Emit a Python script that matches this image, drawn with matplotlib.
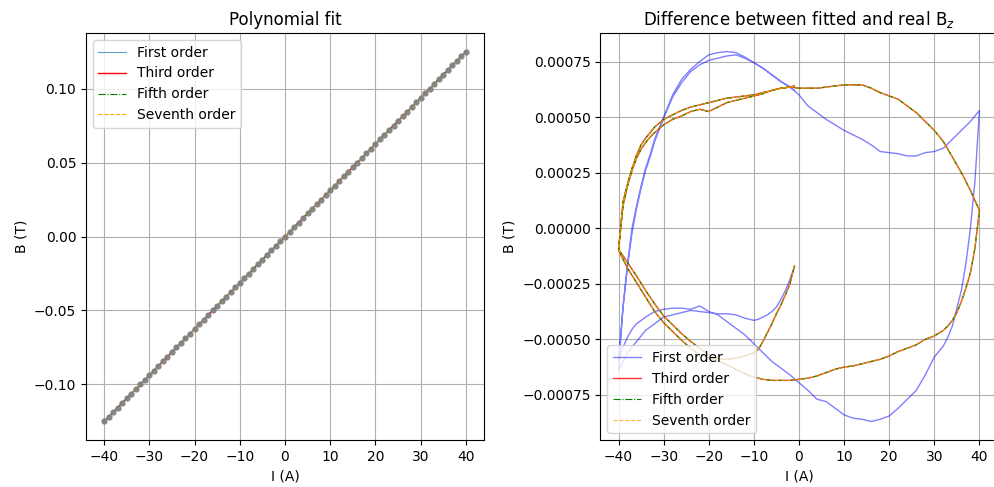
import matplotlib
matplotlib.use("Agg")
import matplotlib.pyplot as plt
import numpy as np

# Measured field along the current setpoints (left panel)
current_grid = list(range(-40, 41))
field_pos = [0.0, 0.0031, 0.0063, 0.0094, 0.0125, 0.0156, 0.0188, 0.0219, 0.0250, 0.0281,
             0.0313, 0.0344, 0.0375, 0.0406, 0.0438, 0.0469, 0.0500, 0.0531, 0.0563, 0.0594,
             0.0625, 0.0656, 0.0688, 0.0719, 0.0750, 0.0781, 0.0813, 0.0844, 0.0875, 0.0906,
             0.0938, 0.0969, 0.1000, 0.1031, 0.1063, 0.1094, 0.1125, 0.1156, 0.1188, 0.1219,
             0.1250]
field_grid = [-b for b in field_pos[:0:-1]] + field_pos

# Hysteresis sweep: -1 -> -40 -> 40 -> -40 -> -1 A
# residuals in units of 1e-4 T
sweep1_I = [-1, -2, -3, -4, -5, -6, -7, -8, -9, -10, -12, -14, -16, -18, -20,
            -22, -24, -26, -28, -30, -32, -34, -36, -38, -39, -40]
sweep1_first = [-1.75, -2.3, -2.8, -3.2, -3.55, -3.75, -3.9, -4.0, -4.1, -4.15, -4.05,
                -3.9, -3.85, -3.85, -3.8, -3.75, -3.7, -3.8, -3.9, -4.0, -4.3, -4.6,
                -5.1, -5.6, -6.0, -6.4]
sweep1_high = [-1.7, -2.5, -3.0, -3.45, -3.85, -4.3, -4.7, -5.1, -5.45, -5.6, -5.75,
               -5.85, -5.9, -5.9, -5.85, -5.7, -5.4, -5.05, -4.65, -4.25, -3.75, -3.1,
               -2.45, -1.8, -1.4, -1.0]

sweep2_I = [-39, -38, -37, -36, -35, -34, -33, -32, -30, -28, -26, -24, -22, -20, -18,
            -16, -14, -12, -10, -8, -6, -4, -2, 0, 2, 4, 6, 8, 10, 12, 14, 16, 18, 20,
            22, 24, 26, 28, 30, 32, 34, 36, 37, 38, 39, 40]
sweep2_first = [-3.5, -1.6, 0.0, 1.0, 1.9, 2.7, 3.3, 4.0, 5.0, 6.0, 6.7, 7.15, 7.5, 7.8,
                7.9, 7.95, 7.9, 7.7, 7.45, 7.2, 6.9, 6.6, 6.35, 6.0, 5.5, 5.2, 4.9, 4.65,
                4.4, 4.2, 4.0, 3.75, 3.45, 3.4, 3.35, 3.25, 3.25, 3.4, 3.45, 3.6, 4.0,
                4.4, 4.6, 4.8, 5.05, 5.3]
sweep2_high = [1.2, 2.0, 2.7, 3.3, 3.75, 4.05, 4.3, 4.55, 4.9, 5.1, 5.3, 5.45, 5.55,
               5.65, 5.75, 5.85, 5.9, 5.95, 6.0, 6.1, 6.2, 6.3, 6.35, 6.3, 6.3, 6.3,
               6.35, 6.4, 6.45, 6.45, 6.45, 6.3, 6.1, 5.95, 5.8, 5.5, 5.2, 4.8, 4.4,
               3.9, 3.2, 2.5, 2.1, 1.7, 1.25, 0.8]

sweep3_I = [39, 38, 37, 36, 35, 34, 33, 32, 30, 28, 26, 24, 22, 20, 18, 16, 14, 12, 10,
            8, 6, 4, 2, 0, -2, -4, -6, -8, -10, -12, -14, -16, -18, -20, -22, -24, -26,
            -28, -30, -32, -34, -36, -37, -38, -39, -40]
sweep3_first = [2.1, 0.0, -1.6, -2.8, -3.6, -4.4, -4.9, -5.3, -5.8, -6.6, -7.3, -7.7,
                -8.1, -8.45, -8.6, -8.7, -8.6, -8.55, -8.4, -8.1, -7.8, -7.7, -7.3, -6.95,
                -6.6, -6.3, -6.0, -5.6, -5.2, -4.8, -4.5, -4.2, -3.9, -3.75, -3.5, -3.65,
                -3.6, -3.6, -3.65, -3.75, -4.0, -4.3, -4.55, -4.9, -5.35, -5.9]
sweep3_high = [-0.9, -2.0, -2.7, -3.3, -3.8, -4.15, -4.4, -4.6, -4.85, -5.0, -5.25, -5.4,
               -5.55, -5.75, -5.9, -6.0, -6.1, -6.2, -6.25, -6.35, -6.5, -6.65, -6.75,
               -6.8, -6.85, -6.85, -6.85, -6.8, -6.7, -6.55, -6.35, -6.15, -5.95, -5.7,
               -5.4, -5.1, -4.75, -4.35, -3.95, -3.4, -2.8, -2.15, -1.85, -1.55, -1.25,
               -0.95]

sweep4_I = [-39, -38, -37, -36, -35, -34, -33, -32, -30, -28, -26, -24, -22, -20, -18,
            -16, -14, -12, -10, -8, -6, -4, -2, -1]
sweep4_first = [-3.6, -1.7, -0.2, 0.9, 1.8, 2.6, 3.2, 3.9, 4.95, 5.9, 6.55, 7.05, 7.35,
                7.55, 7.65, 7.75, 7.8, 7.65, 7.45, 7.2, 6.9, 6.6, 6.35, 6.2]
sweep4_high = [1.0, 1.9, 2.6, 3.15, 3.55, 3.85, 4.1, 4.3, 4.65, 4.9, 5.05, 5.25, 5.35,
               5.25, 5.45, 5.65, 5.75, 5.85, 5.95, 6.05, 6.2, 6.3, 6.35, 6.4]

current_path = np.array(sweep1_I + sweep2_I + sweep3_I + sweep4_I)
diff_first = np.array(sweep1_first + sweep2_first + sweep3_first + sweep4_first) * 1e-4
diff_high = np.array(sweep1_high + sweep2_high + sweep3_high + sweep4_high) * 1e-4

fig = plt.figure(figsize=(9.94, 4.87), dpi=100)
ax1 = fig.add_axes([0.0865, 0.0965, 0.4004, 0.8357])
ax2 = fig.add_axes([0.6041, 0.0965, 0.3994, 0.8357])

# Left: polynomial fits of B(I)
x = np.array(current_grid)
y = np.array(field_grid)
fit1 = np.polyval(np.polyfit(x, y, 1), x)
fit3 = np.polyval(np.polyfit(x, y, 3), x)
fit5 = np.polyval(np.polyfit(x, y, 5), x)
fit7 = np.polyval(np.polyfit(x, y, 7), x)
ax1.plot(x, fit1, color="#1f77b4", alpha=0.7, lw=0.8, label="First order")
ax1.plot(x, fit3, color="red", lw=1.0, label="Third order")
ax1.plot(x, fit5, color="green", ls="-.", lw=0.8, label="Fifth order")
ax1.plot(x, fit7, color="orange", ls="--", lw=0.8, label="Seventh order")
ax1.plot(x, y, "o", color="grey", ms=3.5, alpha=0.9, zorder=3)
ax1.set_title("Polynomial fit")
ax1.set_xlabel("I (A)")
ax1.set_ylabel("B (T)")
ax1.grid(True)
ax1.legend(loc="upper left")

# Right: fit residuals along the sweep
ax2.plot(current_path, diff_first, color="blue", alpha=0.5, lw=1.0, label="First order")
ax2.plot(current_path, diff_high, color="red", alpha=0.8, lw=1.0, label="Third order")
ax2.plot(current_path, diff_high, color="green", ls="-.", lw=0.8, label="Fifth order")
ax2.plot(current_path, diff_high, color="orange", ls="--", alpha=0.8, lw=0.8,
         label="Seventh order")
ax2.set_title("Difference between fitted and real B$_z$")
ax2.set_xlabel("I (A)")
ax2.set_ylabel("B (T)")
ax2.grid(True)
ax2.legend(loc="lower left")

fig.savefig("out.png")
